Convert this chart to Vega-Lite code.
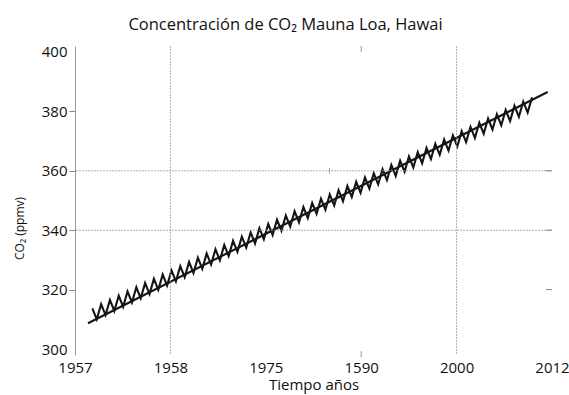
{
  "$schema": "https://vega.github.io/schema/vega-lite/v6.json",
  "width": 477,
  "height": 309,
  "autosize": {"type": "none"},
  "padding": {"left": 75, "top": 46, "right": 17, "bottom": 40},
  "background": "white",
  "title": {"text": "Concentración de CO₂ Mauna Loa, Hawai", "font": "Open Sans", "fontSize": 16.5, "fontWeight": "normal", "color": "#111", "anchor": "middle", "dx": -28, "offset": 11},
  "config": {"view": {"stroke": null}, "axis": {"labelFont": "Open Sans", "titleFont": "Open Sans", "labelColor": "#111", "titleColor": "#111", "titleFontWeight": "normal"}},
  "datasets": {
    "co2": [
      {"s": "trend", "t": 1958.5, "v": 308.7},
      {"s": "trend", "t": 2011.5, "v": 386.5},
      {"s": "monthly", "t": 1959.000, "v": 313.70}, {"s": "monthly", "t": 1959.507, "v": 310.00},
      {"s": "monthly", "t": 1960.014, "v": 315.12}, {"s": "monthly", "t": 1960.521, "v": 311.42},
      {"s": "monthly", "t": 1961.028, "v": 316.54}, {"s": "monthly", "t": 1961.535, "v": 312.84},
      {"s": "monthly", "t": 1962.042, "v": 317.96}, {"s": "monthly", "t": 1962.549, "v": 314.26},
      {"s": "monthly", "t": 1963.056, "v": 319.38}, {"s": "monthly", "t": 1963.563, "v": 315.68},
      {"s": "monthly", "t": 1964.070, "v": 320.80}, {"s": "monthly", "t": 1964.577, "v": 317.10},
      {"s": "monthly", "t": 1965.084, "v": 322.22}, {"s": "monthly", "t": 1965.591, "v": 318.52},
      {"s": "monthly", "t": 1966.098, "v": 323.64}, {"s": "monthly", "t": 1966.605, "v": 319.94},
      {"s": "monthly", "t": 1967.112, "v": 325.06}, {"s": "monthly", "t": 1967.619, "v": 321.36},
      {"s": "monthly", "t": 1968.126, "v": 326.48}, {"s": "monthly", "t": 1968.633, "v": 322.78},
      {"s": "monthly", "t": 1969.140, "v": 327.90}, {"s": "monthly", "t": 1969.647, "v": 324.20},
      {"s": "monthly", "t": 1970.154, "v": 329.32}, {"s": "monthly", "t": 1970.661, "v": 325.62},
      {"s": "monthly", "t": 1971.168, "v": 330.74}, {"s": "monthly", "t": 1971.675, "v": 327.04},
      {"s": "monthly", "t": 1972.182, "v": 332.16}, {"s": "monthly", "t": 1972.689, "v": 328.46},
      {"s": "monthly", "t": 1973.196, "v": 333.58}, {"s": "monthly", "t": 1973.703, "v": 329.88},
      {"s": "monthly", "t": 1974.210, "v": 335.00}, {"s": "monthly", "t": 1974.717, "v": 331.30},
      {"s": "monthly", "t": 1975.224, "v": 336.42}, {"s": "monthly", "t": 1975.731, "v": 332.72},
      {"s": "monthly", "t": 1976.238, "v": 337.84}, {"s": "monthly", "t": 1976.745, "v": 334.14},
      {"s": "monthly", "t": 1977.252, "v": 339.26}, {"s": "monthly", "t": 1977.759, "v": 335.56},
      {"s": "monthly", "t": 1978.266, "v": 340.68}, {"s": "monthly", "t": 1978.773, "v": 336.98},
      {"s": "monthly", "t": 1979.280, "v": 342.10}, {"s": "monthly", "t": 1979.787, "v": 338.40},
      {"s": "monthly", "t": 1980.294, "v": 343.52}, {"s": "monthly", "t": 1980.801, "v": 339.82},
      {"s": "monthly", "t": 1981.308, "v": 344.94}, {"s": "monthly", "t": 1981.815, "v": 341.24},
      {"s": "monthly", "t": 1982.322, "v": 346.36}, {"s": "monthly", "t": 1982.829, "v": 342.66},
      {"s": "monthly", "t": 1983.336, "v": 347.78}, {"s": "monthly", "t": 1983.843, "v": 344.08},
      {"s": "monthly", "t": 1984.350, "v": 349.20}, {"s": "monthly", "t": 1984.857, "v": 345.50},
      {"s": "monthly", "t": 1985.364, "v": 350.62}, {"s": "monthly", "t": 1985.871, "v": 346.92},
      {"s": "monthly", "t": 1986.378, "v": 352.04}, {"s": "monthly", "t": 1986.885, "v": 348.34},
      {"s": "monthly", "t": 1987.392, "v": 353.46}, {"s": "monthly", "t": 1987.899, "v": 349.76},
      {"s": "monthly", "t": 1988.406, "v": 354.88}, {"s": "monthly", "t": 1988.913, "v": 351.18},
      {"s": "monthly", "t": 1989.420, "v": 356.30}, {"s": "monthly", "t": 1989.927, "v": 352.60},
      {"s": "monthly", "t": 1990.434, "v": 357.72}, {"s": "monthly", "t": 1990.941, "v": 354.02},
      {"s": "monthly", "t": 1991.448, "v": 359.14}, {"s": "monthly", "t": 1991.955, "v": 355.44},
      {"s": "monthly", "t": 1992.462, "v": 360.56}, {"s": "monthly", "t": 1992.969, "v": 356.86},
      {"s": "monthly", "t": 1993.476, "v": 361.98}, {"s": "monthly", "t": 1993.983, "v": 358.28},
      {"s": "monthly", "t": 1994.490, "v": 363.40}, {"s": "monthly", "t": 1994.997, "v": 359.70},
      {"s": "monthly", "t": 1995.504, "v": 364.82}, {"s": "monthly", "t": 1996.011, "v": 361.12},
      {"s": "monthly", "t": 1996.518, "v": 366.24}, {"s": "monthly", "t": 1997.025, "v": 362.54},
      {"s": "monthly", "t": 1997.532, "v": 367.66}, {"s": "monthly", "t": 1998.039, "v": 363.96},
      {"s": "monthly", "t": 1998.546, "v": 369.08}, {"s": "monthly", "t": 1999.053, "v": 365.38},
      {"s": "monthly", "t": 1999.560, "v": 370.50}, {"s": "monthly", "t": 2000.067, "v": 366.80},
      {"s": "monthly", "t": 2000.574, "v": 371.92}, {"s": "monthly", "t": 2001.081, "v": 368.22},
      {"s": "monthly", "t": 2001.588, "v": 373.34}, {"s": "monthly", "t": 2002.095, "v": 369.64},
      {"s": "monthly", "t": 2002.602, "v": 374.76}, {"s": "monthly", "t": 2003.109, "v": 371.06},
      {"s": "monthly", "t": 2003.616, "v": 376.18}, {"s": "monthly", "t": 2004.123, "v": 372.48},
      {"s": "monthly", "t": 2004.630, "v": 377.60}, {"s": "monthly", "t": 2005.137, "v": 373.90},
      {"s": "monthly", "t": 2005.644, "v": 379.02}, {"s": "monthly", "t": 2006.151, "v": 375.32},
      {"s": "monthly", "t": 2006.658, "v": 380.44}, {"s": "monthly", "t": 2007.165, "v": 376.74},
      {"s": "monthly", "t": 2007.672, "v": 381.86}, {"s": "monthly", "t": 2008.179, "v": 378.16},
      {"s": "monthly", "t": 2008.686, "v": 383.28}, {"s": "monthly", "t": 2009.193, "v": 379.58},
      {"s": "monthly", "t": 2009.700, "v": 384.70}
    ],
    "vgrid": [{"t": 1968}, {"t": 2001}],
    "hgrid": [{"v": 340}, {"v": 360}],
    "rticks": [{"v": 320}, {"v": 340}, {"v": 360}],
    "xticks": [{"t": 1990}],
    "stray": [{"t": 1986.35, "v": 360}]
  },
  "layer": [
    {
      "data": {"name": "co2"},
      "mark": {"type": "line", "color": "#151515", "strokeWidth": 2.1, "strokeJoin": "miter"},
      "encoding": {
        "detail": {"field": "s", "type": "nominal"},
        "x": {
          "field": "t", "type": "quantitative",
          "scale": {"domain": [1957, 2012], "nice": false, "zero": false},
          "axis": {
            "title": "Tiempo años", "titleFontSize": 15, "titlePadding": 2,
            "values": [1957, 1968, 1979, 1990, 2001, 2012],
            "labelExpr": "datum.value == 1968 ? '1958' : datum.value == 1979 ? '1975' : datum.value == 1990 ? '1590' : datum.value == 2001 ? '2000' : format(datum.value, 'd')",
            "labelFontSize": 15, "labelPadding": 5, "labelFlush": false, "labelOverlap": false,
            "domain": false, "ticks": false, "grid": false
          }
        },
        "y": {
          "field": "v", "type": "quantitative",
          "scale": {"domain": [298, 402], "nice": false, "zero": false},
          "axis": {
            "title": "CO₂ (ppmv)", "titleFontSize": 12, "titleX": -49, "titleY": 182, "titleAngle": -90, "titleBaseline": "bottom", "titleAlign": "center",
            "values": [300, 320, 340, 360, 380, 400],
            "labelFontSize": 15, "labelPadding": 2, "labelFlush": false,
            "domainColor": "#999", "domainWidth": 1,
            "tickColor": "#888", "tickSize": 6,
            "tickOpacity": {"condition": {"test": "datum.value == 300 || datum.value == 400", "value": 0}, "value": 1},
            "grid": false
          }
        }
      }
    },
    {
      "data": {"name": "vgrid"},
      "mark": {"type": "rule", "color": "#9a9a9a", "strokeWidth": 0.8, "strokeDash": [2, 1]},
      "encoding": {
        "x": {"field": "t", "type": "quantitative"}
      }
    },
    {
      "data": {"name": "hgrid"},
      "mark": {"type": "rule", "color": "#9a9a9a", "strokeWidth": 0.8, "strokeDash": [2, 1]},
      "encoding": {
        "y": {"field": "v", "type": "quantitative"}
      }
    },
    {
      "data": {"name": "rticks"},
      "mark": {"type": "rule", "color": "#888", "strokeWidth": 1},
      "encoding": {
        "x": {"datum": 2011.3, "type": "quantitative"},
        "x2": {"datum": 2012},
        "y": {"field": "v", "type": "quantitative"}
      }
    },
    {
      "data": {"name": "xticks"},
      "mark": {"type": "rule", "color": "#999", "strokeWidth": 1},
      "encoding": {
        "x": {"field": "t", "type": "quantitative"},
        "y": {"datum": 297.3, "type": "quantitative"},
        "y2": {"datum": 299.3}
      }
    },
    {
      "data": {"name": "xticks"},
      "mark": {"type": "rule", "color": "#999", "strokeWidth": 1},
      "encoding": {
        "x": {"field": "t", "type": "quantitative"},
        "y": {"datum": 400, "type": "quantitative"},
        "y2": {"datum": 402}
      }
    },
    {
      "data": {"name": "stray"},
      "mark": {"type": "tick", "orient": "vertical", "color": "#888", "size": 6, "thickness": 1},
      "encoding": {
        "x": {"field": "t", "type": "quantitative"},
        "y": {"field": "v", "type": "quantitative"}
      }
    }
  ]
}
